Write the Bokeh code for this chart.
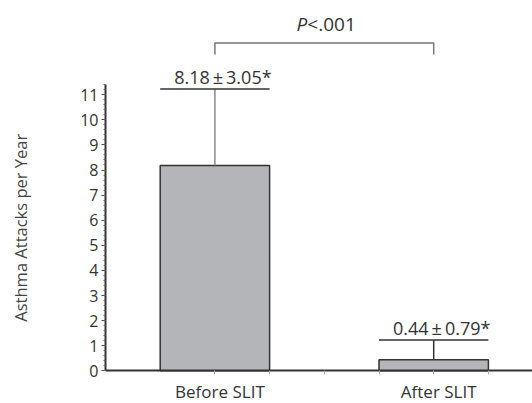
import math
from bokeh.plotting import figure
from bokeh.models import Range1d, FixedTicker, SingleIntervalTicker
from bokeh.core.properties import value
from bokeh.embed import file_html
from bokeh.resources import INLINE

# ---- data ----
groups = ["Before SLIT", "After SLIT"]
group_pos = [2, 6]
means = [8.18, 0.44]
sds = [3.05, 0.79]
value_labels = ["8.18\u2009\u00b1\u20093.05*", "0.44\u2009\u00b1\u20090.79*"]
p_label_italic = "P"
p_label_rest = "<.001"
y_title = "Asthma Attacks per Year"
y_axis_max = 11.4

# ---- styling / layout parameters ----
FONT = value("Open Sans")
TXT = "#333333"
bar_width = 2.0
W, H = 532, 403
origin_x, origin_y = 105.0, 370.3   # canvas pixel of data (0, 0)
px_x, px_y = 54.7, 25.1             # pixels per data unit
x_end = (W - origin_x) / px_x
bracket_y = 13.06
bracket_drop = 0.46

p = figure(width=W, height=H, output_backend="svg", toolbar_location=None,
           x_range=Range1d(-origin_x / px_x, x_end),
           y_range=Range1d(-(H - origin_y) / px_y, origin_y / px_y),
           min_border=0, outline_line_color=None)
p.grid.visible = False

# y axis at x = 0
ya = p.yaxis[0]
ya.fixed_location = 0
ya.ticker = SingleIntervalTicker(interval=1, num_minor_ticks=5)
ya.bounds = (0, y_axis_max)
ya.axis_line_width = 2
ya.axis_line_color = "#333333"
ya.major_tick_out = 4
ya.major_tick_in = 0
ya.major_tick_line_color = "#444444"
ya.minor_tick_out = 2
ya.minor_tick_in = 0
ya.minor_tick_line_color = "#666666"
ya.major_label_text_font = "Open Sans"
ya.major_label_text_font_size = "16px"
ya.major_label_text_color = TXT
ya.major_label_standoff = 3

# x axis at y = 0
xa = p.xaxis[0]
xa.fixed_location = 0
xa.bounds = (0, x_end)
xt = [2, 3, 4, 5, 6, 7]
xa.ticker = FixedTicker(ticks=xt)
xa.major_label_overrides = {t: "" for t in xt}
xa.axis_line_width = 2
xa.axis_line_color = "#333333"
xa.major_tick_out = 4
xa.major_tick_in = 0
xa.major_tick_line_color = "#aaaaaa"
xa.minor_tick_line_color = None

# bars
p.vbar(x=group_pos, top=means, width=bar_width, bottom=0,
       fill_color="#b4b5b9", line_color="#333333", line_width=1.5)

# error bars
tops = [m + s for m, s in zip(means, sds)]
p.segment(x0=group_pos, x1=group_pos, y0=means, y1=tops,
          line_color=["#8a8a8a", "#333333"], line_width=1.5)
p.segment(x0=[g - bar_width / 2 for g in group_pos],
          x1=[g + bar_width / 2 for g in group_pos],
          y0=tops, y1=tops, line_color="#333333", line_width=1.5)

# value labels
p.text(x=group_pos, y=tops, text=value_labels, text_align="center",
       text_baseline="alphabetic", y_offset=-12, x_offset=8,
       text_font=FONT, text_font_size="18px", text_color=TXT)

# significance bracket
p.line(x=[group_pos[0], group_pos[0], group_pos[1], group_pos[1]],
       y=[bracket_y - bracket_drop, bracket_y, bracket_y, bracket_y - bracket_drop],
       line_color="#777777", line_width=1.5)
mid = (group_pos[0] + group_pos[1]) / 2
p.text(x=[mid], y=[bracket_y], text=[p_label_italic], text_align="right",
       text_baseline="alphabetic", x_offset=-17, y_offset=-19,
       text_font=FONT, text_font_size="19px", text_font_style="italic",
       text_color=TXT)
p.text(x=[mid], y=[bracket_y], text=[p_label_rest], text_align="left",
       text_baseline="alphabetic", x_offset=-17, y_offset=-19,
       text_font=FONT, text_font_size="19px", text_color=TXT)

# category labels
p.text(x=group_pos, y=[0, 0], text=groups, text_align="center",
       text_baseline="alphabetic", x_offset=5, y_offset=21,
       text_font=FONT, text_font_size="17px", text_color=TXT)

# y axis title
p.text(x=[-origin_x / px_x], y=[y_axis_max / 2], text=[y_title],
       angle=math.pi / 2, text_align="center", text_baseline="middle",
       x_offset=20, text_font=FONT, text_font_size="16.5px",
       text_color="#444444")

open("out.html", "w").write(file_html(p, INLINE))
